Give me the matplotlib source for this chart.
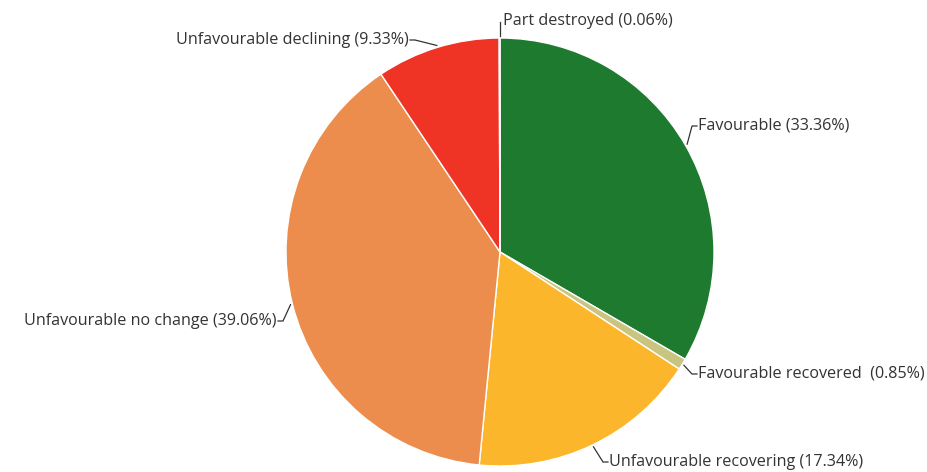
import numpy as np
import matplotlib
matplotlib.use("Agg")
import matplotlib.pyplot as plt

categories = ["Favourable", "Favourable recovered ", "Unfavourable recovering",
              "Unfavourable no change", "Unfavourable declining", "Part destroyed"]
values = [33.36, 0.85, 17.34, 39.06, 9.33, 0.06]
colors = ["#1e7a2e", "#c9c47f", "#fbb62b", "#ec8d4e", "#ef3324", "#f6e4c2"]

W, H = 927, 472
fig = plt.figure(figsize=(W / 100, H / 100), dpi=100)
ax = fig.add_axes([0, 0, 1, 1])
ax.set_xlim(0, W)
ax.set_ylim(0, H)
ax.set_aspect("equal")
ax.axis("off")

cx, cy, r = 500, H - 252, 214
wedges, _ = ax.pie(values, colors=colors, startangle=90, counterclock=False,
                   center=(cx, cy), radius=r,
                   wedgeprops=dict(edgecolor="white", linewidth=1))
ax.set_xlim(0, W)
ax.set_ylim(0, H)

# label text positions (image pixel coords, y down) and alignment
label_pos = [(698, 126, "left"), (698, 374, "left"), (609, 462, "left"),
             (277, 321, "right"), (409, 40, "right"), (503, 21, "left")]

for w, cat, v, (tx, ty, ha) in zip(wedges, categories, values, label_pos):
    mid = np.deg2rad((w.theta1 + w.theta2) / 2)
    ax_x = cx + (r + 2) * np.cos(mid)
    ax_y = cy + (r + 2) * np.sin(mid)
    ty_d = H - ty
    side = 1 if ha == "left" else -1
    if cat == "Part destroyed":
        ex, ey = ax_x, ty_d - 1
        end = (tx - 3, ty_d - 1)
    else:
        ex, ey = tx - side * 6, ty_d
        end = (tx - side * 1, ty_d)
    ax.plot([ax_x, ex, end[0]], [ax_y, ey, end[1]], color="#333333", lw=0.9,
            solid_joinstyle="miter")
    ax.text(tx, ty_d, f"{cat} ({v:.2f}%)",
            ha=ha, va="center", fontsize=11.6, color="#333333", family="Open Sans")

fig.savefig("out.png", dpi=100)
